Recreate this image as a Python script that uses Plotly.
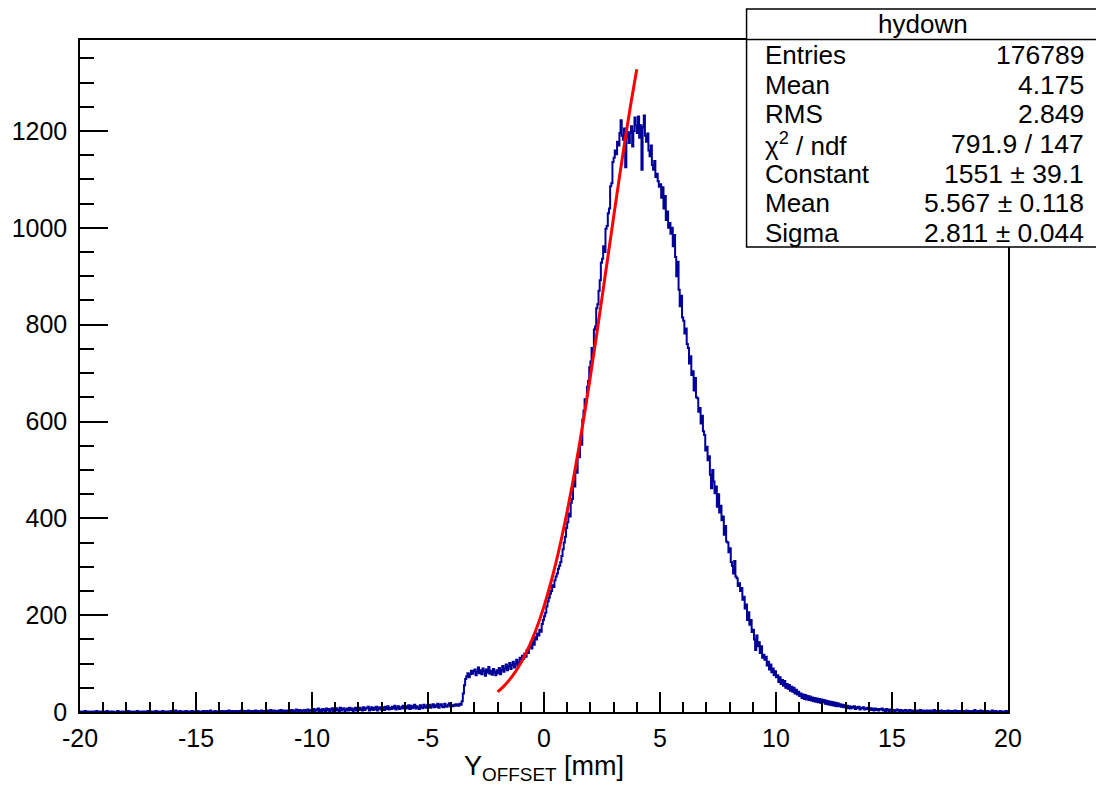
import plotly.graph_objects as go

# ---------------- data ----------------
bin_low = -20.0
bin_width = 0.05

counts = (
    [0,1,0,0,2,0,1,0,0,1,0,0,1,0,2,0,0,1,0,0]            # -20..-19
    + [1,0,0,2,0,0,1,0,1,0,0,0,2,1,0,0,1,0,0,1]          # -19..-18
    + [0,2,0,1,0,0,1,0,0,2,1,0,0,1,0,1,0,0,2,0]          # -18..-17
    + [1,0,1,0,0,2,0,1,0,0,1,2,0,0,1,0,1,0,2,1]          # -17..-16
    + [0,1,3,0,1,0,2,0,1,1,0,2,0,1,0,1,2,0,1,0]          # -16..-15
    + [1,2,0,1,0,1,2,1,0,2,0,1,3,0,1,0,2,1,0,1]          # -15..-14
    + [2,0,1,2,1,0,2,1,3,0,1,2,0,1,2,1,0,2,1,3]          # -14..-13
    + [1,2,0,2,1,3,1,0,2,1,2,3,1,2,0,1,3,2,1,2]          # -13..-12
    + [2,3,1,2,4,1,2,3,1,2,0,3,2,4,1,2,3,1,2,3]          # -12..-11
    + [3,2,4,1,3,2,5,3,2,4,3,1,3,4,2,3,5,2,3,4]          # -11..-10
    + [2,6,1,5,3,7,2,5,1,6,4,2,7,3,6,2,5,8,2,6]          # -10..-9
    + [3,8,4,2,9,3,6,8,2,4,7,3,9,4,7,2,5,9,3,7]          # -9..-8
    + [4,9,5,3,10,4,7,9,11,3,6,10,4,9,5,11,3,8,10,5]     # -8..-7
    + [6,10,4,11,6,12,5,9,6,11,7,13,5,9,12,6,10,7,13,8]  # -7..-6
    + [7,12,8,14,6,13,8,11,15,7,12,9,6,14,10,8,15,11,9,14]     # -6..-5
    + [10,15,9,13,16,10,14,11,17,9,14,16,11,10,17,12,11,15,18,12]  # -5..-4
    + [14,12,15,13,16,14,13,17,15,22,38,55,68,74,80,72,78,85,79,84]  # -4..-3
    + [88,76,83,92,80,86,78,90,84,75,88,81,93,79,85,77,89,82,76,86]  # -3..-2
    + [80,91,78,87,95,83,90,98,86,94,101,89,97,104,92,99,108,95,103,112]  # -2..-1
    + [104,116,110,121,114,128,122,135,142,131,148,139,155,150,162,158,170,166,182,190]  # -1..0
    + [198,205,218,228,236,244,250,262,258,272,280,286,296,302,310,322,336,350,362,380]  # 0..1
    + [392,410,404,432,440,476,466,500,494,532,526,560,552,604,622,646,640,672,684,712]  # 1..2
    + [724,752,740,790,796,834,842,870,892,928,936,962,950,998,1004,1030,1040,1086,1092,1136]  # 2..3
    + [1145,1160,1152,1178,1170,1196,1222,1190,1182,1205,1125,1188,1198,1175,1196,1210,1168,1200,1228,1212]  # 3..4
    + [1196,1230,1186,1212,1120,1208,1232,1190,1178,1195,1160,1148,1170,1130,1120,1138,1105,1112,1096,1085]  # 4..5
    + [1090,1062,1084,1040,1066,1016,1034,1000,1010,988,1000,962,985,940,900,930,872,838,860,815]  # 5..6
    + [808,782,792,760,752,720,735,696,704,664,690,650,648,620,628,596,612,580,572,540]  # 6..7
    + [548,520,528,490,462,500,476,452,466,424,450,412,426,396,404,366,384,352,350,330]  # 7..8
    + [338,310,302,286,312,280,276,260,266,250,256,232,238,214,222,190,206,180,190,165]  # 8..9
    + [170,150,128,158,136,144,122,136,112,118,108,114,96,104,88,98,82,90,76,84]  # 9..10
    + [72,76,62,72,58,66,54,64,50,58,48,56,44,52,42,50,38,46,36,42]  # 10..11
    + [33,38,29,36,27,35,26,33,25,32,24,30,22,29,21,28,20,27,19,26]  # 11..12
    + [20,25,17,23,16,22,15,21,14,20,13,19,12,18,12,16,11,15,10,14]  # 12..13
    + [10,13,8,12,7,11,9,12,6,10,8,11,5,9,7,10,5,8,6,9]  # 13..14
    + [5,8,4,7,3,7,4,6,3,6,5,7,3,5,2,6,4,2,5,3]  # 14..15
    + [3,4,2,3,5,3,2,4,3,2,3,4,2,3,2,4,3,2,3,2]  # 15..16
    + [2,3,1,2,4,2,1,3,2,2,3,1,2,3,1,2,4,2,1,2]  # 16..17
    + [2,1,3,2,1,2,0,2,3,1,2,1,2,0,3,1,2,1,2,1]  # 17..18
    + [1,2,0,1,3,1,2,1,0,2,1,4,1,0,2,1,3,1,2,1]  # 18..19
    + [0,1,2,1,0,1,3,1,0,2,1,0,1,2,0,1,1,0,2,1]  # 19..20
)

fit_x = [-2.0, -1.75, -1.5, -1.25, -1.0, -0.75, -0.5, -0.25, 0.0, 0.25, 0.5, 0.75,
         1.0, 1.25, 1.5, 1.75, 2.0, 2.25, 2.5, 2.75, 3.0, 3.25, 3.5, 3.75, 4.0]
fit_y = [41.4, 52.4, 65.8, 81.9, 101.2, 124.2, 151.0, 182.3, 218.2, 259.2, 305.5, 357.4,
         414.3, 476.9, 544.6, 616.9, 693.5, 773.2, 855.4, 938.8, 1022.1, 1104.3, 1183.7, 1258.6, 1327.8]

x_tick_vals = [-20, -15, -10, -5, 0, 5, 10, 15, 20]
x_tick_text = ["-20", "-15", "-10", "-5", "0", "5", "10", "15", "20"]
y_tick_vals = [0, 200, 400, 600, 800, 1000, 1200]
y_tick_text = ["0", "200", "400", "600", "800", "1000", "1200"]

stats_title = "hydown"
stats_labels = ["Entries", "Mean", "RMS", "χ<sup>2</sup> / ndf", "Constant", "Mean", "Sigma"]
stats_values = ["176789", "4.175", "2.849", "791.9 / 147", "1551 ± 39.1", "5.567 ± 0.118", "2.811 ± 0.044"]

x_title = "Y<sub>OFFSET</sub> [mm]"

# ---------------- figure ----------------
FONT = "Liberation Sans, Arial, Helvetica, sans-serif"
W, H = 1096, 790
L, R, T, B = 78, 88, 40, 78
PW, PH = W - L - R, H - T - B


def px_x(px):
    return (px - L) / PW


def px_y(py):
    return (H - B - py) / PH


edges = [bin_low + i * bin_width for i in range(len(counts) + 1)]
hist_y = counts + [counts[-1]]

fig = go.Figure()
fig.add_trace(go.Scatter(
    x=edges, y=hist_y, mode="lines",
    line=dict(shape="hv", color="#000099", width=2),
    hoverinfo="skip", showlegend=False,
))
fig.add_trace(go.Scatter(
    x=fit_x, y=fit_y, mode="lines",
    line=dict(shape="spline", color="#ff0000", width=3),
    hoverinfo="skip", showlegend=False,
))

fig.update_layout(
    width=W, height=H, autosize=False,
    margin=dict(l=L, r=R, t=T, b=B, pad=0),
    paper_bgcolor="white", plot_bgcolor="white",
    font=dict(family=FONT, size=25, color="black"),
    showlegend=False,
)

fig.update_xaxes(
    range=[-20, 20], showgrid=False, zeroline=False,
    showline=True, linecolor="black", linewidth=1.5, mirror=True,
    ticks="inside", ticklen=20, tickwidth=1.5, tickcolor="black",
    tickmode="array", tickvals=x_tick_vals, ticktext=x_tick_text,
    tickfont=dict(family=FONT, size=25, color="black"),
    ticklabelstandoff=3,
    minor=dict(ticks="inside", ticklen=10, tickwidth=1.5, tickcolor="black",
               tickmode="linear", tick0=0, dtick=1),
)
fig.update_yaxes(
    range=[0, 1388], showgrid=False, zeroline=False,
    showline=True, linecolor="black", linewidth=1.5, mirror=True,
    ticks="inside", ticklen=28, tickwidth=1.5, tickcolor="black",
    tickmode="array", tickvals=y_tick_vals, ticktext=y_tick_text,
    tickfont=dict(family=FONT, size=25, color="black"),
    ticklabelstandoff=6,
    minor=dict(ticks="inside", ticklen=14, tickwidth=1.5, tickcolor="black",
               tickmode="linear", tick0=0, dtick=50),
)

# stats box
box_l, box_r, box_t, box_b, box_sep = 746, 1100, 9, 247, 39.5
fig.add_shape(type="rect", xref="paper", yref="paper",
              x0=px_x(box_l), x1=px_x(box_r), y0=px_y(box_b), y1=px_y(box_t),
              line=dict(color="black", width=1.5), fillcolor="white", layer="above")
fig.add_shape(type="line", xref="paper", yref="paper",
              x0=px_x(box_l), x1=px_x(box_r), y0=px_y(box_sep), y1=px_y(box_sep),
              line=dict(color="black", width=1.5), layer="above")

fig.add_annotation(xref="paper", yref="paper", x=px_x(923), y=px_y(24.5),
                   text=stats_title, showarrow=False, xanchor="center", yanchor="middle",
                   font=dict(family=FONT, size=26, color="black"))
row0, row_h = 55, 29.7
for i, (lab, val) in enumerate(zip(stats_labels, stats_values)):
    cy = row0 + i * row_h
    fig.add_annotation(xref="paper", yref="paper", x=px_x(762), y=px_y(cy),
                       text=lab, showarrow=False, xanchor="left", yanchor="middle",
                       font=dict(family=FONT, size=26, color="black"))
    fig.add_annotation(xref="paper", yref="paper", x=px_x(1086), y=px_y(cy),
                       text=val, showarrow=False, xanchor="right", yanchor="middle",
                       font=dict(family=FONT, size=26.5, color="black"))

# x axis title
fig.add_annotation(xref="paper", yref="paper", x=0.5, y=px_y(768),
                   text=x_title, showarrow=False, xanchor="center", yanchor="middle",
                   font=dict(family=FONT, size=27, color="black"))

fig.write_html("out.html")
